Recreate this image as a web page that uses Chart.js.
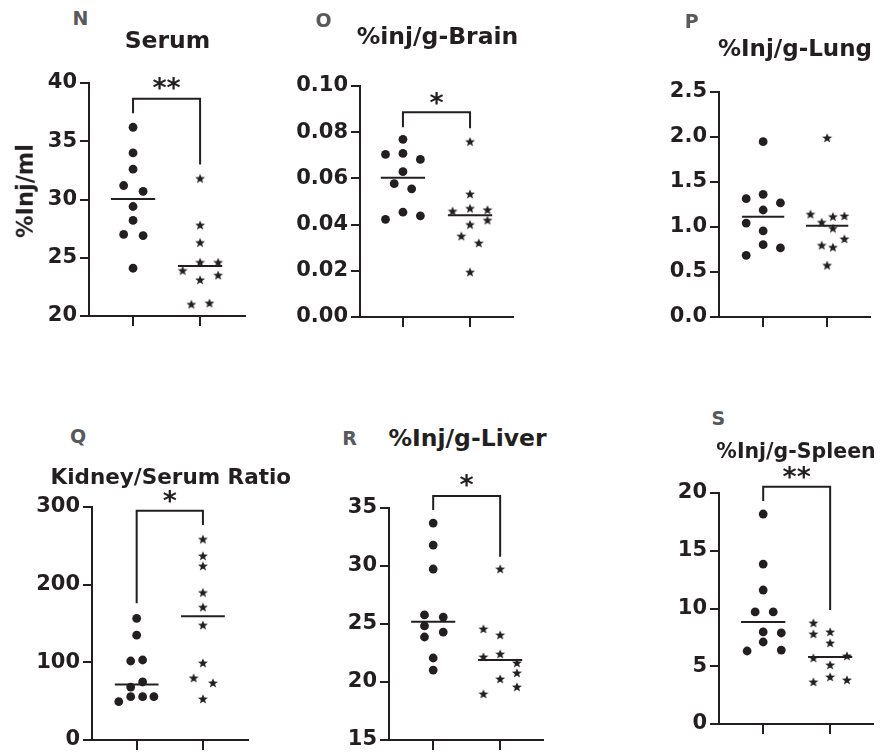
<!DOCTYPE html>
<html>
<head>
<meta charset="utf-8">
<script src="https://cdn.jsdelivr.net/npm/chart.js@4.4.1/dist/chart.umd.min.js"></script>
<style>
  html, body { margin: 0; padding: 0; background: #fff; }
  #stage { position: relative; width: 880px; height: 752px; overflow: hidden; background: #fff;
           font-family: "DejaVu Sans", sans-serif; font-weight: bold; color: #231f20; }
  #stage canvas { position: absolute; }
  .lbl { position: absolute; white-space: nowrap; line-height: 1; transform: translateX(-50%); }
  .letter { color: #58595b; }
  .ytitle { position: absolute; white-space: nowrap; line-height: 1; transform: translate(-50%, -50%) rotate(-90deg); }
</style>
</head>
<body>
<div id="stage"></div>
<script>
// ---------------- DATA ----------------
const groups = [1, 2];            // group 1 = circles, group 2 = stars

// N – Serum (%Inj/ml)
const serumCircle        = [36.2, 34.0, 32.6, 31.2, 30.7, 29.4, 28.2, 27.0, 26.9, 24.1];
const serumCircleJitter  = [0, 0, 0, -0.14, 0.15, 0, 0, -0.14, 0.15, 0];
const serumStar          = [31.8, 27.8, 26.3, 24.6, 24.6, 23.9, 23.1, 23.5, 21.0, 21.1];
const serumStarJitter    = [0, 0, 0, 0, 0.27, -0.26, 0, 0.27, -0.13, 0.14];
const serumMedian        = [30.05, 24.3];
const serumBracket       = [37.4, 38.65, 33.0];
const serumSig           = ['**', 40.0];
const serumTicks         = [20, 25, 30, 35, 40];
const serumTickLabels    = ['20', '25', '30', '35', '40'];

// O – %inj/g-Brain
const brainCircle        = [0.0769, 0.0704, 0.0708, 0.0682, 0.0629, 0.0577, 0.0555, 0.0423, 0.0454, 0.0438];
const brainCircleJitter  = [0, -0.26, 0, 0.26, 0, -0.13, 0.13, -0.26, 0, 0.26];
const brainStar          = [0.0759, 0.0532, 0.0458, 0.0470, 0.0464, 0.0419, 0.0400, 0.0350, 0.0320, 0.0194];
const brainStarJitter    = [0, 0, -0.26, 0, 0.26, 0.26, 0, -0.13, 0.13, 0];
const brainMedian        = [0.0603, 0.0441];
const brainBracket       = [0.0821, 0.0886, 0.0817];
const brainSig           = ['*', 0.0948];
const brainTicks         = [0, 0.02, 0.04, 0.06, 0.08, 0.10];
const brainTickLabels    = ['0.00', '0.02', '0.04', '0.06', '0.08', '0.10'];

// P – %Inj/g-Lung
const lungCircle         = [1.948, 1.315, 1.363, 1.267, 1.189, 1.044, 0.956, 0.804, 0.767, 0.685];
const lungCircleJitter   = [0, -0.265, 0, 0.27, 0, -0.265, 0, 0, 0.27, -0.265];
const lungStar           = [1.989, 1.141, 1.052, 1.115, 1.122, 0.985, 0.867, 0.796, 0.774, 0.574];
const lungStarJitter     = [0, -0.26, -0.085, 0.09, 0.27, 0.09, 0.27, -0.085, 0.09, 0];
const lungMedian         = [1.115, 1.015];
const lungTicks          = [0, 0.5, 1.0, 1.5, 2.0, 2.5];
const lungTickLabels     = ['0.0', '0.5', '1.0', '1.5', '2.0', '2.5'];

// Q – Kidney/Serum Ratio
const kidneyCircle       = [156.7, 135, 101.7, 103, 68.2, 74.7, 49.4, 55.8, 55.8, 55.8];
const kidneyCircleJitter = [0, 0, -0.09, 0.09, -0.09, 0.09, -0.27, -0.09, 0.09, 0.26];
const kidneyStar         = [258.4, 237, 224, 189.8, 171, 147.9, 99.1, 79.8, 73.4, 52.8];
const kidneyStarJitter   = [0, 0, 0, 0, 0, 0, 0, -0.14, 0.15, 0];
const kidneyMedian       = [71.5, 159.4];
const kidneyBracket      = [176, 295.2, 276.8];
const kidneySig          = ['*', 314];
const kidneyTicks        = [0, 100, 200, 300];
const kidneyTickLabels   = ['0', '100', '200', '300'];

// R – %Inj/g-Liver
const liverCircle        = [33.7, 31.8, 29.74, 25.78, 25.6, 24.83, 24.3, 23.88, 22.07, 21.03];
const liverCircleJitter  = [0, 0, 0, -0.13, 0.15, -0.13, 0.15, -0.13, 0, 0];
const liverStar          = [29.74, 24.57, 24.05, 22.16, 22.41, 21.64, 20.78, 20.26, 19.57, 18.97];
const liverStarJitter    = [0, -0.25, 0, -0.25, 0, 0.25, 0.25, 0, 0.25, -0.25];
const liverMedian        = [25.2, 21.9];
const liverBracket       = [34.83, 36.03, 30.8];
const liverSig           = ['*', 37.4];
const liverTicks         = [15, 20, 25, 30, 35];
const liverTickLabels    = ['15', '20', '25', '30', '35'];

// S – %Inj/g-Spleen
const spleenCircle       = [18.18, 13.85, 11.6, 9.7, 9.7, 7.97, 7.88, 7.1, 6.32, 6.4];
const spleenCircleJitter = [0, 0, 0, -0.12, 0.15, 0, 0.27, 0, -0.24, 0.27];
const spleenStar         = [8.74, 7.79, 7.97, 7.01, 5.71, 5.89, 5.11, 4.07, 3.81, 3.64];
const spleenStarJitter   = [-0.25, -0.25, 0, 0, -0.25, 0.25, 0, 0, 0.25, -0.25];
const spleenMedian       = [8.83, 5.8];
const spleenBracket      = [19.3, 20.55, 9.87];
const spleenSig          = ['**', 21.8];
const spleenTicks        = [0, 5, 10, 15, 20];
const spleenTickLabels   = ['0', '5', '10', '15', '20'];

// ---------------- LAYOUT / STYLE ----------------
const INK = '#231f20';
const FONT = '"DejaVu Sans", sans-serif';
const Y_W = 80, PAD_T = 48, X_H = 16, PAD_R = 8;
const MED_HALF = 0.33;

const panels = [
  { letter: 'N', title: 'Serum', yTitle: '%Inj/ml',
    circle: serumCircle, circleJitter: serumCircleJitter, star: serumStar, starJitter: serumStarJitter,
    median: serumMedian, bracket: serumBracket, sig: serumSig, ticks: serumTicks, tickLabels: serumTickLabels,
    box: { x: 89, top: 83, bottom: 316, right: 245 }, xRange: [0.343, 2.67],
    letterPos: [80.5, 18.5], titlePos: [167.5, 40], titleSize: 23.5, yTitlePos: [25, 191] },
  { letter: 'O', title: '%inj/g-Brain',
    circle: brainCircle, circleJitter: brainCircleJitter, star: brainStar, starJitter: brainStarJitter,
    median: brainMedian, bracket: brainBracket, sig: brainSig, ticks: brainTicks, tickLabels: brainTickLabels,
    box: { x: 360, top: 86, bottom: 317, right: 513 }, xRange: [0.36, 2.64],
    letterPos: [323.7, 20.5], titlePos: [437.5, 36.7], titleSize: 23.5 },
  { letter: 'P', title: '%Inj/g-Lung',
    circle: lungCircle, circleJitter: lungCircleJitter, star: lungStar, starJitter: lungStarJitter,
    median: lungMedian, bracket: null, sig: null, ticks: lungTicks, tickLabels: lungTickLabels,
    box: { x: 719, top: 92, bottom: 317, right: 870 }, xRange: [0.31, 2.67],
    letterPos: [691.7, 20.7], titlePos: [795, 48], titleSize: 23 },
  { letter: 'Q', title: 'Kidney/Serum Ratio',
    circle: kidneyCircle, circleJitter: kidneyCircleJitter, star: kidneyStar, starJitter: kidneyStarJitter,
    median: kidneyMedian, bracket: kidneyBracket, sig: kidneySig, ticks: kidneyTicks, tickLabels: kidneyTickLabels,
    box: { x: 92, top: 507, bottom: 740, right: 248 }, xRange: [0.326, 2.68],
    letterPos: [78, 436.5], titlePos: [170.8, 476.7], titleSize: 21.5 },
  { letter: 'R', title: '%Inj/g-Liver',
    circle: liverCircle, circleJitter: liverCircleJitter, star: liverStar, starJitter: liverStarJitter,
    median: liverMedian, bracket: liverBracket, sig: liverSig, ticks: liverTicks, tickLabels: liverTickLabels,
    box: { x: 389, top: 508, bottom: 740, right: 543 }, xRange: [0.34, 2.64],
    letterPos: [349.7, 437.7], titlePos: [467.5, 438.3], titleSize: 23.5 },
  { letter: 'S', title: '%Inj/g-Spleen',
    circle: spleenCircle, circleJitter: spleenCircleJitter, star: spleenStar, starJitter: spleenStarJitter,
    median: spleenMedian, bracket: spleenBracket, sig: spleenSig, ticks: spleenTicks, tickLabels: spleenTickLabels,
    box: { x: 719, top: 493, bottom: 724, right: 873 }, xRange: [0.34, 2.64],
    letterPos: [718.3, 418.3], titlePos: [796, 450.5], titleSize: 20.5 }
];

// ---------------- RENDER ----------------
const stage = document.getElementById('stage');

// filled five-pointed star marker
const starImg = document.createElement('canvas');
starImg.width = 12; starImg.height = 12;
(function () {
  const c = starImg.getContext('2d');
  const R = 5.2, r = 2.2;
  c.beginPath();
  for (let i = 0; i < 10; i++) {
    const a = -Math.PI / 2 + i * Math.PI / 5;
    const rad = i % 2 === 0 ? R : r;
    const px = 6 + rad * Math.cos(a), py = 6.4 + rad * Math.sin(a);
    if (i === 0) c.moveTo(px, py); else c.lineTo(px, py);
  }
  c.closePath();
  c.fillStyle = INK;
  c.fill();
})();

function addText(cls, text, cx, cy, size) {
  const d = document.createElement('div');
  d.className = cls;
  d.textContent = text;
  d.style.fontSize = size + 'px';
  d.style.left = cx + 'px';
  d.style.top = (cy - 0.48 * size) + 'px';
  stage.appendChild(d);
}

const sigPlugin = {
  id: 'sig',
  afterDatasetsDraw(chart, args, opts) {
    if (!opts || !opts.text) return;
    const { ctx } = chart;
    const xs = chart.scales.x, ys = chart.scales.y;
    ctx.save();
    ctx.font = 'bold 27px ' + FONT;
    ctx.fillStyle = INK;
    ctx.textAlign = 'center';
    ctx.textBaseline = 'alphabetic';
    const m = ctx.measureText(opts.text);
    const cx = xs.getPixelForValue((groups[0] + groups[1]) / 2);
    const cy = ys.getPixelForValue(opts.y);
    ctx.fillText(opts.text, cx, cy + (m.actualBoundingBoxAscent - m.actualBoundingBoxDescent) / 2);
    ctx.restore();
  }
};

function makePanel(p) {
  const b = p.box;
  const W = Y_W + (b.right - b.x) + PAD_R;
  const H = PAD_T + (b.bottom - b.top) + X_H;
  const cv = document.createElement('canvas');
  cv.width = W; cv.height = H;
  cv.style.left = (b.x - Y_W) + 'px';
  cv.style.top = (b.top - PAD_T) + 'px';
  cv.style.width = W + 'px';
  cv.style.height = H + 'px';
  stage.appendChild(cv);

  const datasets = [];
  datasets.push({
    data: p.circle.map((v, i) => ({ x: groups[0] + p.circleJitter[i], y: v })),
    pointStyle: 'circle', pointRadius: 4.4, pointBackgroundColor: INK, pointBorderWidth: 0,
    showLine: false
  });
  datasets.push({
    data: p.star.map((v, i) => ({ x: groups[1] + p.starJitter[i], y: v })),
    pointStyle: starImg, pointRadius: 5, showLine: false
  });
  p.median.forEach((m, g) => {
    datasets.push({
      data: [{ x: groups[g] - MED_HALF, y: m }, { x: groups[g] + MED_HALF, y: m }],
      showLine: true, pointRadius: 0, borderColor: INK, borderWidth: 2, borderCapStyle: 'butt'
    });
  });
  if (p.bracket) {
    const br = p.bracket;
    datasets.push({
      data: [{ x: groups[0], y: br[0] }, { x: groups[0], y: br[1] }, { x: groups[1], y: br[1] }, { x: groups[1], y: br[2] }],
      showLine: true, pointRadius: 0, borderColor: INK, borderWidth: 2, clip: false,
      borderCapStyle: 'butt', borderJoinStyle: 'miter', tension: 0
    });
  }

  const gridOpts = (len) => ({
    display: true, drawOnChartArea: false, drawTicks: true, tickLength: len,
    tickWidth: 2, tickColor: INK, color: INK, lineWidth: 2
  });

  new Chart(cv, {
    type: 'scatter',
    data: { datasets },
    plugins: [sigPlugin],
    options: {
      responsive: false, animation: false, events: [],
      layout: { padding: { top: PAD_T, right: PAD_R, left: 0, bottom: 0 } },
      plugins: {
        legend: { display: false }, tooltip: { enabled: false }, title: { display: false },
        sig: p.sig ? { text: p.sig[0], y: p.sig[1] } : { text: '' }
      },
      scales: {
        x: {
          type: 'linear', min: p.xRange[0], max: p.xRange[1],
          afterBuildTicks: s => { s.ticks = groups.map(v => ({ value: v })); },
          afterFit: s => { s.height = X_H; },
          ticks: { display: false },
          grid: gridOpts(10),
          border: { display: true, color: INK, width: 2 }
        },
        y: {
          type: 'linear', min: p.ticks[0], max: p.ticks[p.ticks.length - 1],
          afterBuildTicks: s => { s.ticks = p.ticks.map(v => ({ value: v })); },
          afterFit: s => { s.width = Y_W; },
          ticks: {
            color: INK, padding: 3, autoSkip: false,
            font: { family: FONT, size: 21, weight: 'bold' },
            callback: (v, i) => p.tickLabels[i]
          },
          grid: gridOpts(9),
          border: { display: true, color: INK, width: 2 }
        }
      }
    }
  });

  addText('lbl letter', p.letter, p.letterPos[0], p.letterPos[1], 19);
  addText('lbl', p.title, p.titlePos[0], p.titlePos[1], p.titleSize);
  if (p.yTitle) {
    const d = document.createElement('div');
    d.className = 'ytitle';
    d.textContent = p.yTitle;
    d.style.fontSize = '22.5px';
    d.style.left = p.yTitlePos[0] + 'px';
    d.style.top = p.yTitlePos[1] + 'px';
    stage.appendChild(d);
  }
}

panels.forEach(makePanel);
</script>
</body>
</html>
